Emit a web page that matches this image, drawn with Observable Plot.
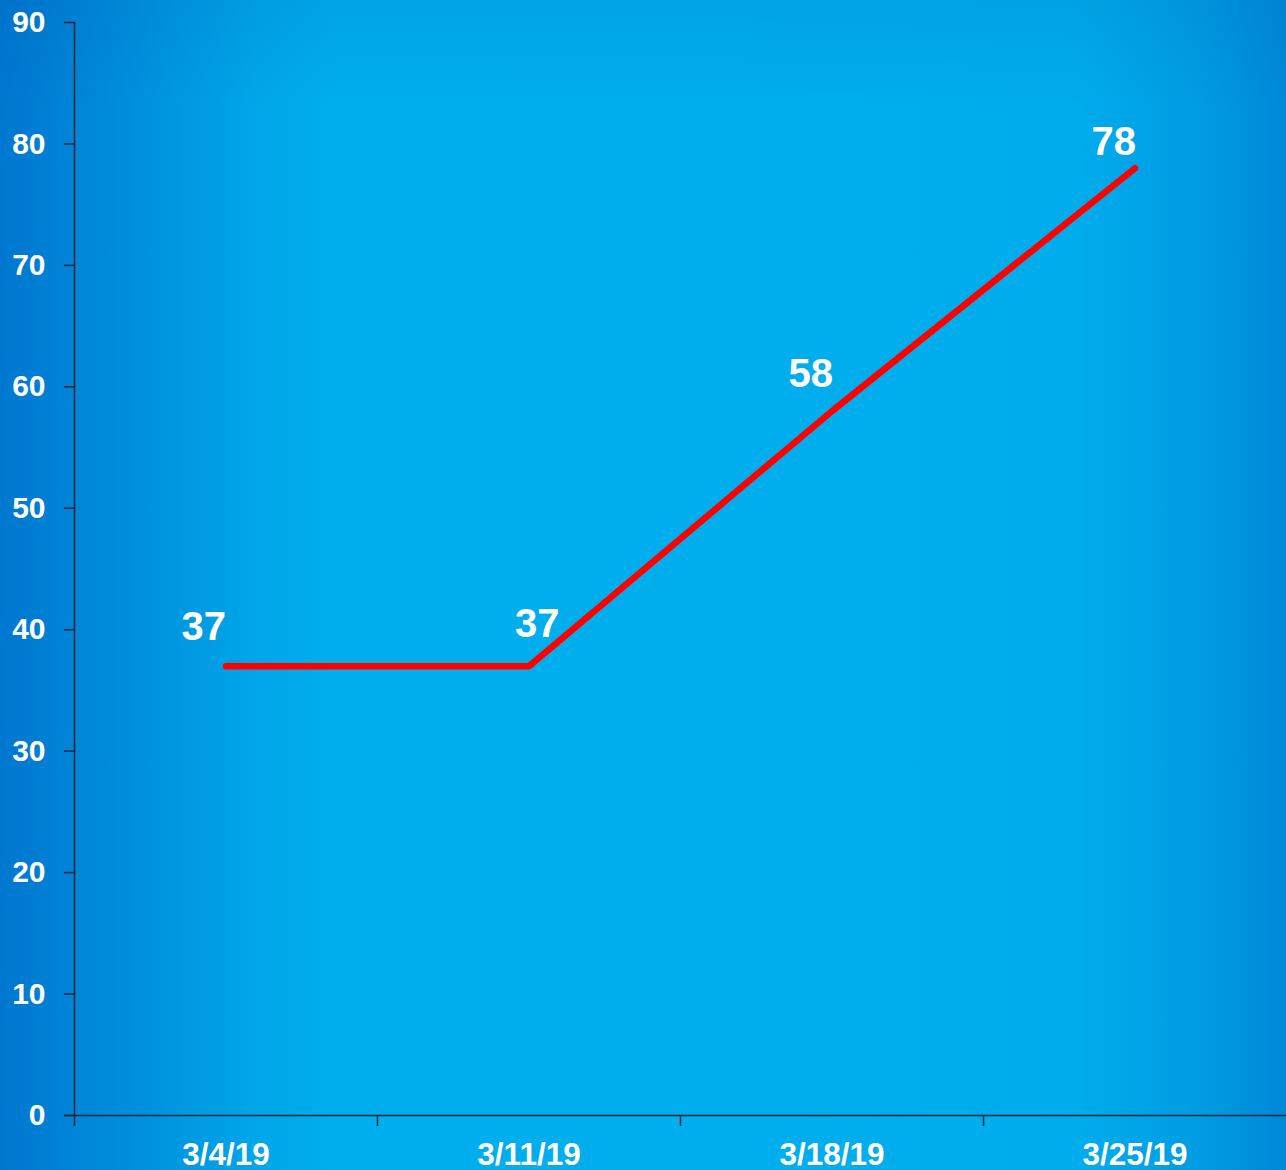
<!DOCTYPE html>
<html>
<head>
<meta charset="utf-8">
<script src="https://cdn.jsdelivr.net/npm/d3@7"></script>
<script src="https://cdn.jsdelivr.net/npm/@observablehq/plot@0.6"></script>
<style>
  html, body { margin: 0; padding: 0; }
  #wrap {
    width: 1286px; height: 1170px; position: relative; overflow: hidden;
    background:
      linear-gradient(to bottom, rgba(0,70,160,0.10) 0%, rgba(0,70,160,0) 9%),
      linear-gradient(to right, #0077cf 0%, #008cdb 9%, #00a6e9 20%, #00aeed 26%, #00aeed 55%, #00acec 84%, #009ce3 93%, #0088d8 100%);
  }
  #wrap svg { display: block; }
</style>
</head>
<body>
<div id="wrap"></div>
<script>
const dates = ["3/4/19", "3/11/19", "3/18/19", "3/25/19"];
const values = [37, 37, 58, 78];
const yTicks = [0, 10, 20, 30, 40, 50, 60, 70, 80, 90];

const data = dates.map((d, i) => ({date: d, value: values[i], label: String(values[i])}));

const axisColor = "#1a2633";
const font = "'Liberation Sans', Arial, sans-serif";
const labelStyle = {x: "date", y: "value", text: "label", fill: "white", fontSize: 40, fontWeight: "bold", lineAnchor: "bottom"};

const chart = Plot.plot({
  width: 1286,
  height: 1170,
  marginLeft: 74,
  marginRight: 0,
  marginTop: 22,
  marginBottom: 55,
  style: {background: "transparent", fontFamily: font, color: "white"},
  x: {type: "band", domain: dates, padding: 0},
  y: {domain: [0, 90]},
  marks: [
    Plot.axisY({ticks: yTicks, tickSize: 10, tickPadding: 19, fontSize: 30, fontWeight: "bold", fill: "white", stroke: axisColor, strokeWidth: 1.5, label: null}),
    Plot.axisX({tickSize: 0, tickPadding: 27, fontSize: 31.5, fontWeight: "bold", fill: "white", label: null}),
    Plot.frame({anchor: "left", stroke: axisColor, strokeWidth: 1.5}),
    Plot.ruleY([0], {stroke: axisColor, strokeWidth: 1.5, insetLeft: -10}),
    Plot.ruleX(dates, {x: d => d, y1: 0, y2: 0, dx: -151.5, insetBottom: -11, stroke: axisColor, strokeWidth: 1.5}),
    Plot.line(data, {x: "date", y: "value", stroke: "#ff0000", strokeWidth: 6.5, strokeLinecap: "round", strokeLinejoin: "miter"}),
    Plot.text(data, {...labelStyle, filter: (d, i) => i === 0, textAnchor: "end", dx: 0, dy: -26}),
    Plot.text(data, {...labelStyle, filter: (d, i) => i === 1, textAnchor: "start", dx: -14, dy: -29}),
    Plot.text(data, {...labelStyle, filter: (d, i) => i === 2, textAnchor: "end", dx: 1, dy: -24}),
    Plot.text(data, {...labelStyle, filter: (d, i) => i === 3, textAnchor: "end", dx: 1, dy: -13})
  ]
});
document.getElementById("wrap").appendChild(chart);
</script>
</body>
</html>
